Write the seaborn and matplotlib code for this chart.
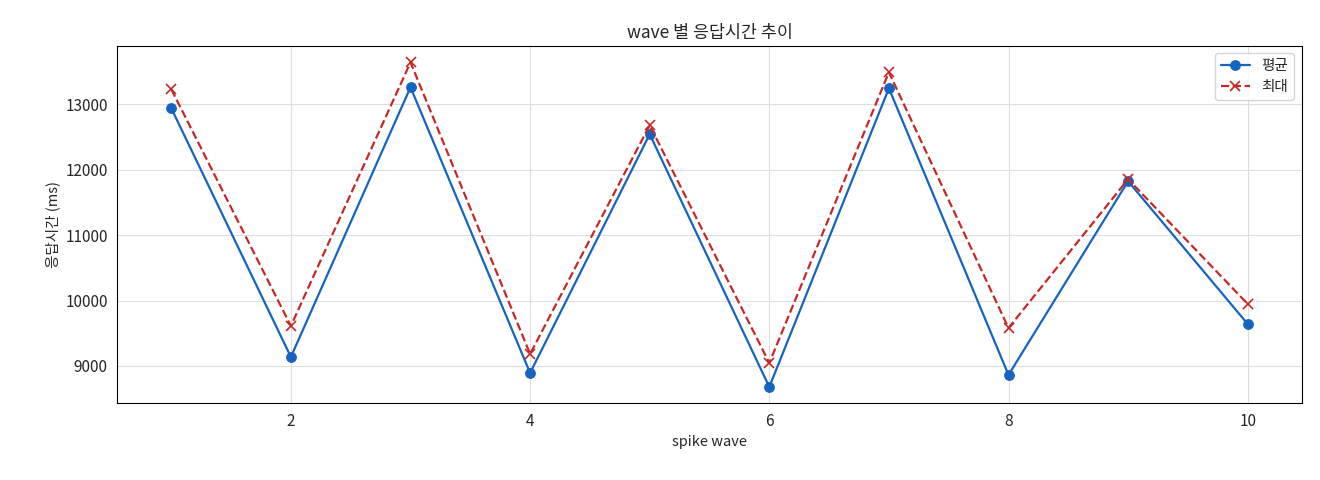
import matplotlib
matplotlib.use('Agg')
import matplotlib.pyplot as plt
import seaborn as sns

sns.set_style("white")
plt.rcParams['font.family'] = ['Noto Sans CJK KR', 'DejaVu Sans']

waves = [1, 2, 3, 4, 5, 6, 7, 8, 9, 10]
avg_ms = [12939, 9137, 13260, 8893, 12542, 8679, 13244, 8863, 11824, 9641]
max_ms = [13229, 9611, 13641, 9183, 12679, 9046, 13489, 9580, 11855, 9947]

fig, ax = plt.subplots(figsize=(13.2, 4.8), dpi=100)
sns.lineplot(x=waves, y=avg_ms, ax=ax, color='#1565c0', marker='o', markersize=7,
             markeredgecolor='#1565c0', linewidth=1.6, label='평균')
sns.lineplot(x=waves, y=max_ms, ax=ax, color='#c62828', marker='x', markersize=7,
             markeredgecolor='#c62828', markeredgewidth=1.2,
             linestyle='--', linewidth=1.6, label='최대')
ax.set_title('wave 별 응답시간 추이', fontsize=12.5)
ax.set_xlabel('spike wave', fontsize=10.5)
ax.set_ylabel('응답시간 (ms)', fontsize=10.5)
ax.grid(True, color='#dddddd', linewidth=0.8)
for s in ax.spines.values():
    s.set_color('black')
    s.set_linewidth(0.8)
ax.tick_params(labelsize=11)
ax.legend(loc='upper right', fontsize=10.5)
plt.subplots_adjust(left=0.089, right=0.986, top=0.904, bottom=0.16)
plt.savefig('out.png', dpi=100)
plt.close()
